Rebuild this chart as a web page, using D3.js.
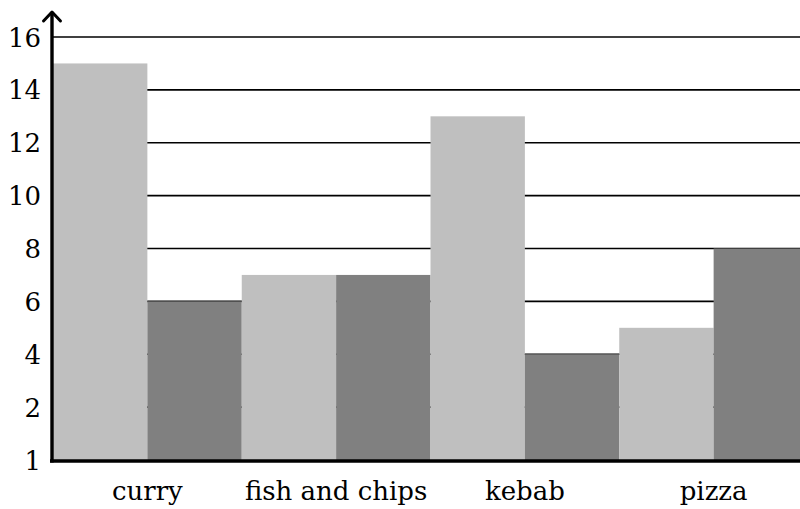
<!DOCTYPE html>
<html><head><meta charset="utf-8">
<script src="https://cdn.jsdelivr.net/npm/d3@7"></script>
<style>body{margin:0;background:#fff}svg{display:block}
svg text{font-family:"DejaVu Serif",serif;}</style>
</head><body>
<svg id="c" width="800" height="509"></svg>
<script>
const categories = ["curry", "fish and chips", "kebab", "pizza"];
const seriesA = [15, 7, 13, 5];
const seriesB = [6, 7, 4, 8];
const tickValues = [0, 2, 4, 6, 8, 10, 12, 14, 16];
const tickLabels = ["1", "2", "4", "6", "8", "10", "12", "14", "16"];

(function () {
const svg = d3.select("#c");
const mLeft = 53, mRight = 808, mTop = 37, mBottom = 460;
const x = d3.scaleBand().domain(categories).range([mLeft, mRight]).padding(0);
const sub = d3.scaleBand().domain(["a", "b"]).range([0, x.bandwidth()]).padding(0);
const y = d3.scaleLinear().domain([0, 16]).range([mBottom, mTop]);

// gridlines
svg.append("g").selectAll("line").data(tickValues.filter(v => v > 0)).join("line")
  .attr("x1", mLeft).attr("x2", 800).attr("y1", d => y(d)).attr("y2", d => y(d))
  .attr("stroke", "#000").attr("stroke-width", 1.6);

// bars
const g = svg.append("g");
categories.forEach((c, i) => {
  g.append("rect").attr("x", x(c) + sub("a")).attr("width", sub.bandwidth())
    .attr("y", y(seriesA[i])).attr("height", y(0) - y(seriesA[i])).attr("fill", "#bfbfbf");
  g.append("rect").attr("x", x(c) + sub("b")).attr("width", sub.bandwidth())
    .attr("y", y(seriesB[i])).attr("height", y(0) - y(seriesB[i])).attr("fill", "#808080");
});

// y tick labels
const yAxis = d3.axisLeft(y).tickValues(tickValues).tickSize(0).tickPadding(11)
  .tickFormat((d, i) => tickLabels[i]);
const ya = svg.append("g").attr("transform", `translate(${mLeft - 1},0)`).call(yAxis);
ya.select(".domain").remove();
ya.selectAll("text").attr("font-size", 26).attr("fill", "#000").attr("dy", "0.35em");

// x labels
const xAxis = d3.axisBottom(x).tickSize(0).tickPadding(22);
const xa = svg.append("g").attr("transform", `translate(0,${mBottom})`).call(xAxis);
xa.select(".domain").remove();
xa.selectAll("text").attr("font-size", 26).attr("fill", "#000");

// axes lines
svg.append("line").attr("x1", 50).attr("x2", 800).attr("y1", mBottom + 1).attr("y2", mBottom + 1)
  .attr("stroke", "#000").attr("stroke-width", 3.4);
svg.append("line").attr("x1", 52).attr("x2", 52).attr("y1", mBottom + 2.5).attr("y2", 12)
  .attr("stroke", "#000").attr("stroke-width", 3.4);
svg.append("path").attr("d", "M43.5,21 L52,12 L60.5,21").attr("fill", "none")
  .attr("stroke", "#000").attr("stroke-width", 3).attr("stroke-linecap", "round").attr("stroke-linejoin", "round");
})();
</script>
</body></html>
